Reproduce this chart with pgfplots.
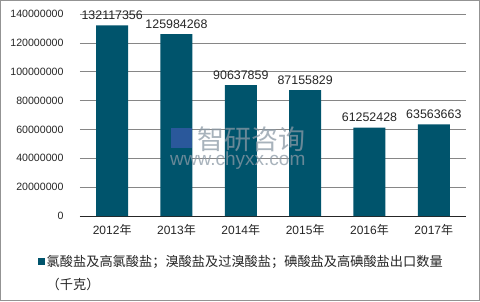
\documentclass[border=0pt]{standalone}
\usepackage{pgfplots}
\pgfplotsset{compat=1.18}
\usepackage{fontspec}
\setmainfont{Liberation Sans}
\newfontfamily\cjk{Noto Sans CJK SC}
\definecolor{barcol}{HTML}{00546C}
\definecolor{wmark}{HTML}{8C9AA6}

\begin{document}
\begin{tikzpicture}
  % canvas and frame
  \fill[white] (0pt,0pt) rectangle (480pt,301pt);
  \draw[gray!85, line width=1.2pt] (0.6pt,0.6pt) rectangle (479.4pt,300.4pt);

  \begin{axis}[
    at={(80pt,85pt)}, anchor=south west,
    scale only axis, width=386pt, height=202pt,
    xmin=-0.5, xmax=5.5,
    ymin=0, ymax=140000000,
    ytick={0,20000000,40000000,60000000,80000000,100000000,120000000,140000000},
    yticklabels={0,20000000,40000000,60000000,80000000,100000000,120000000,140000000},
    xtick={0,1,2,3,4,5},
    xticklabels={2012{\cjk 年},2013{\cjk 年},2014{\cjk 年},2015{\cjk 年},2016{\cjk 年},2017{\cjk 年}},
    scaled y ticks=false,
    axis lines*=left,
    y axis line style={draw=none},
    x axis line style={draw=black!85, line width=0.8pt},
    major tick length=0pt,
    ymajorgrids, grid style={gray!95, line width=0.7pt},
    yticklabel style={font=\fontsize{10.6}{12}\selectfont, xshift=-13pt, text=black!85},
    xticklabel style={font=\fontsize{12}{14}\selectfont, yshift=-5pt, text=black!85},
    ybar, bar width=32pt,
    nodes near coords,
    nodes near coords style={font=\fontsize{12.4}{14}\selectfont, text=black!85, yshift=2pt},
    point meta=explicit symbolic,
    legend style={at={(-0.11,-0.183)}, anchor=north west, draw=none, fill=none,
      inner sep=0pt, font=\fontsize{13.2}{23.5}\selectfont\cjk, text=black!85,
      cells={anchor=west, align=left}},
    legend image code/.code={\fill[barcol] (0pt,7.8pt) rectangle (7pt,14.8pt);},
    clip=false,
  ]
    \addplot[fill=barcol, draw=none] coordinates {
      (0,132117356) [132117356]
      (1,125984268) [125984268]
      (2,90637859) [90637859]
      (3,87155829) [87155829]
      (4,61252428) [61252428]
      (5,63563663) [63563663]
    };
    \addlegendentry{氯酸盐及高氯酸盐；溴酸盐及过溴酸盐；碘酸盐及高碘酸盐出口数量\\（千克）}
  \end{axis}

  % watermark
  \node[text=wmark, opacity=0.75, font=\fontsize{27}{29}\selectfont\cjk, anchor=west, inner sep=0pt] at (197pt,162pt) {智研咨询};
  \node[text=wmark, opacity=0.75, font=\fontsize{19}{21}\selectfont, anchor=west, inner sep=0pt] at (170pt,140pt) {www.chyxx.com};
  \fill[wmark!60!blue, opacity=0.5] (171pt,153pt) rectangle (192pt,173pt);
\end{tikzpicture}
\end{document}
